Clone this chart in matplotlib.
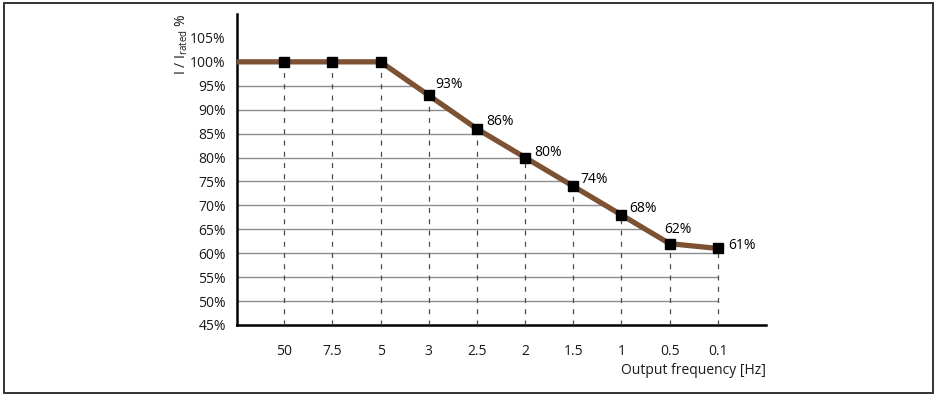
import numpy as np
import matplotlib
matplotlib.use("Agg")
import matplotlib.pyplot as plt
from matplotlib.patches import Rectangle

plt.rcParams['font.family'] = ['Open Sans', 'DejaVu Sans']
plt.rcParams['mathtext.fontset'] = 'custom'
plt.rcParams['mathtext.rm'] = 'Open Sans'
plt.rcParams['mathtext.it'] = 'Open Sans:italic'

# Derating curve: output current vs. output frequency
freq_labels = ["50", "7.5", "5", "3", "2.5", "2", "1.5", "1", "0.5", "0.1"]
current_pct = [100, 100, 100, 93, 86, 80, 74, 68, 62, 61]
shown_labels = [None, None, None, "93%", "86%", "80%", "74%", "68%", "62%", "61%"]
y_ticks = [45, 50, 55, 60, 65, 70, 75, 80, 85, 90, 95, 100, 105]

# label placement (pixel offsets from each marker, alignment)
label_offsets = [None, None, None, (6, 11), (9, 7), (9, 5), (7, 7), (8, 6), (8, 14), (10, 3)]
label_ha = [None, None, None, "left", "left", "left", "left", "left", "center", "left"]

line_color = "#7d5232"
grid_color = "#8e8e8e"

fig = plt.figure(figsize=(9.34, 3.95), dpi=100)
ax = fig.add_axes([237 / 934, 1 - 325 / 395, 529 / 934, 311 / 395])

x = np.arange(len(freq_labels))
y = np.array(current_pct, dtype=float)
x_left = -0.98
ax.set_xlim(x_left, len(freq_labels))
ax.set_ylim(45, 110)

x_curve = np.concatenate(([x_left], x))
y_curve = np.concatenate(([y[0]], y))

# horizontal grid lines, each running until it meets the curve
for level in y_ticks[1:-2]:
    x_end = np.interp(level, y_curve[::-1], x_curve[::-1])
    ax.hlines(level, x_left, x_end, color=grid_color, lw=1.0, zorder=1)

# dashed drop lines from each point to the axis
ax.vlines(x, 45, y, colors="#4a4a4a", lw=0.9, linestyles=(0, (4, 5)), zorder=3)

ax.plot(x_curve, y_curve, color=line_color, lw=3.8, zorder=4, solid_capstyle="butt")
ax.plot(x, y, ls="none", marker="s", ms=7.2, color="black", zorder=5)

for xi, yi, txt, off, ha in zip(x, y, shown_labels, label_offsets, label_ha):
    if txt is None:
        continue
    ax.annotate(txt, (xi, yi), xytext=off, textcoords="offset pixels",
                ha=ha, va="center", fontsize=10, zorder=6)

ax.set_xticks(x)
ax.set_xticklabels(freq_labels)
ax.set_yticks(y_ticks)
ax.set_yticklabels([f"{v}%" for v in y_ticks])
ax.tick_params(axis="both", length=0, labelsize=10, colors="#1a1a1a")
ax.tick_params(axis="x", pad=14)
ax.tick_params(axis="y", pad=8)

for side in ("top", "right"):
    ax.spines[side].set_visible(False)
for side in ("left", "bottom"):
    ax.spines[side].set_linewidth(1.8)
    ax.spines[side].set_color("black")

fig.text(766 / 934, 1 - 370 / 395, "Output frequency [Hz]", ha="right", va="center",
         fontsize=10, color="#1a1a1a")
fig.text(182 / 934, 1 - 44 / 395, r"I / I$_\mathregular{rated}$ %", rotation=90,
         ha="center", va="center", fontsize=10, color="#1a1a1a")

# outer frame
fig.patches.append(Rectangle((4 / 934, 2 / 395), 929 / 934, 390 / 395,
                             transform=fig.transFigure, fill=False,
                             edgecolor="#333333", lw=1.4))

fig.savefig("out.png", dpi=100)
